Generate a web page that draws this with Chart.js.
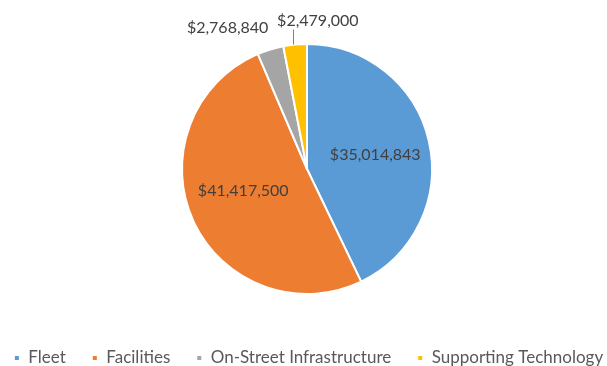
<!DOCTYPE html>
<html>
<head>
<meta charset="utf-8">
<title>Capital Costs by Category</title>
<script src="https://cdn.jsdelivr.net/npm/chart.js@4/dist/chart.umd.min.js"></script>
<style>
  html, body { margin: 0; padding: 0; background: #ffffff; overflow: hidden; }
  #wrap { width: 614px; height: 366px; position: relative; }
</style>
</head>
<body>
<div id="wrap"><canvas id="chart"></canvas></div>
<script>
// Budget categories and their amounts (USD)
const categories = ['Fleet', 'Facilities', 'On-Street Infrastructure', 'Supporting Technology'];
const amounts = [35014843, 41417500, 2768840, 2479000];
const sliceColors = ['#5B9BD5', '#ED7D31', '#A5A5A5', '#FFC000'];

const money = v => '$' + v.toLocaleString('en-US');

// Where each slice's value label goes: inside the slice, or outside above its edge
const labelPlacement = [
  { mode: 'inside', factor: 0.56, dx: 0, dy: 1 },
  { mode: 'inside', factor: 0.56, dx: 0, dy: -7 },
  { mode: 'outside', align: 'right', dx: -2, dy: -22 },
  { mode: 'outside', align: 'left', dx: -18, dy: -24, leader: 15 }
];

const valueLabels = {
  id: 'valueLabels',
  afterDatasetsDraw(chart) {
    const ctx = chart.ctx;
    const meta = chart.getDatasetMeta(0);
    const data = chart.data.datasets[0].data;
    ctx.save();
    ctx.font = '16px Lato, "Open Sans", sans-serif';
    ctx.fillStyle = '#404040';
    ctx.textBaseline = 'middle';
    meta.data.forEach((arc, i) => {
      const p = labelPlacement[i];
      const { x, y, startAngle, endAngle, outerRadius } = arc.getProps(['x', 'y', 'startAngle', 'endAngle', 'outerRadius'], true);
      const mid = (startAngle + endAngle) / 2;
      const text = money(data[i]);
      if (p.mode === 'inside') {
        const r = outerRadius * p.factor;
        ctx.textAlign = 'center';
        ctx.fillText(text, x + Math.cos(mid) * r + p.dx, y + Math.sin(mid) * r + p.dy);
      } else {
        const ex = x + Math.cos(mid) * outerRadius;
        const ey = y + Math.sin(mid) * outerRadius;
        if (p.leader) {
          ctx.beginPath();
          ctx.strokeStyle = '#808080';
          ctx.lineWidth = 1;
          ctx.moveTo(Math.round(ex) - 1.5, ey);
          ctx.lineTo(Math.round(ex) - 1.5, ey - p.leader);
          ctx.stroke();
        }
        ctx.textAlign = p.align;
        ctx.fillText(text, ex + p.dx, ey + p.dy);
      }
    });
    ctx.restore();
  }
};

Chart.defaults.font.family = 'Lato, "Open Sans", sans-serif';

new Chart(document.getElementById('chart'), {
  type: 'pie',
  data: {
    labels: categories,
    datasets: [{
      data: amounts,
      backgroundColor: sliceColors,
      borderColor: '#ffffff',
      borderWidth: 2,
      radius: 125
    }]
  },
  options: {
    responsive: true,
    maintainAspectRatio: false,
    animation: false,
    // the wide side padding lets the single-row legend spread its items out
    layout: { padding: { top: 14.5, bottom: -10.5, left: -14, right: -17 } },
    plugins: {
      tooltip: { enabled: false },
      legend: {
        position: 'bottom',
        labels: {
          boxWidth: 6,
          boxHeight: 6,
          padding: 26,
          color: '#595959',
          font: { size: 17 }
        }
      }
    }
  },
  plugins: [valueLabels]
});
</script>
</body>
</html>
